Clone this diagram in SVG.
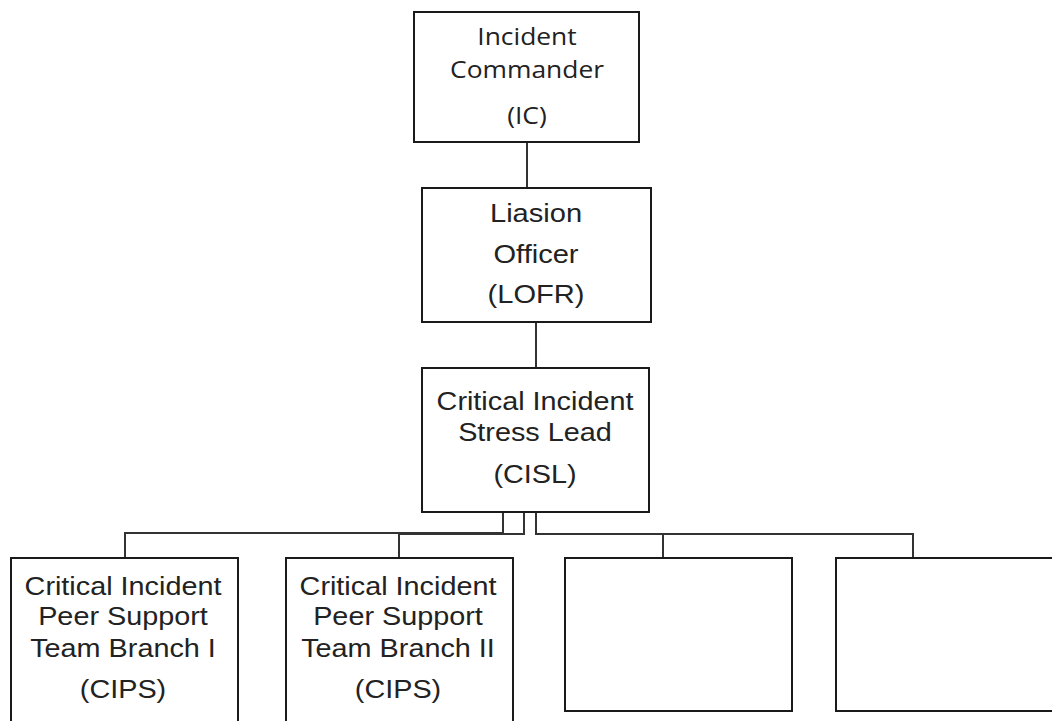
<svg xmlns="http://www.w3.org/2000/svg" width="1052" height="721" viewBox="0 0 1052 721">
<style>
.box{fill:#fff;stroke:#1a1a1a;stroke-width:2}
.con{fill:none;stroke:#333;stroke-width:2}
.t{font-family:"Liberation Sans",Arial,sans-serif;font-size:25.5px;fill:#222;text-anchor:middle}
.tc{font-family:"Open Sans","Noto Sans",sans-serif;font-size:24px;fill:#222;text-anchor:middle}
</style>
<rect width="1052" height="721" fill="#fff"/>
<g id="connectors">
<path class="con" d="M527 142 V188"/>
<path class="con" d="M536 322 V368"/>
<path class="con" d="M503 512 V533 H125 V558"/>
<path class="con" d="M524 512 V534 H399 V558"/>
<path class="con" d="M536 512 V534 H663 V558"/>
<path class="con" d="M663 534 H913 V558"/>
</g>
<g id="ic">
<rect class="box" x="414" y="12" width="225" height="130"/>
<g transform="translate(527,0) scale(1.1,1)">
<text class="tc" x="0" y="45">Incident</text>
<text class="tc" x="0" y="78">Commander</text>
<text class="tc" x="0" y="124">(IC)</text>
</g>
</g>
<g id="lofr">
<rect class="box" x="422" y="188" width="229" height="134"/>
<g transform="translate(536,0) scale(1.14,1)">
<text class="t" x="0" y="222">Liasion</text>
<text class="t" x="0" y="263">Officer</text>
<text class="t" x="0" y="303">(LOFR)</text>
</g>
</g>
<g id="cisl">
<rect class="box" x="422" y="368" width="227" height="144"/>
<g transform="translate(535,0) scale(1.13,1)">
<text class="t" x="0" y="410">Critical Incident</text>
<text class="t" x="0" y="441">Stress Lead</text>
<text class="t" x="0" y="483">(CISL)</text>
</g>
</g>
<g id="cips1">
<rect class="box" x="11" y="558" width="227" height="175"/>
<g transform="translate(123,0) scale(1.13,1)">
<text class="t" x="0" y="595">Critical Incident</text>
<text class="t" x="0" y="625">Peer Support</text>
<text class="t" x="0" y="657">Team Branch I</text>
<text class="t" x="0" y="698">(CIPS)</text>
</g>
</g>
<g id="cips2">
<rect class="box" x="286" y="558" width="227" height="175"/>
<g transform="translate(398,0) scale(1.13,1)">
<text class="t" x="0" y="595">Critical Incident</text>
<text class="t" x="0" y="625">Peer Support</text>
<text class="t" x="0" y="657">Team Branch II</text>
<text class="t" x="0" y="698">(CIPS)</text>
</g>
</g>
<g id="box3">
<rect class="box" x="565" y="558" width="227" height="153"/>
</g>
<g id="box4">
<rect class="box" x="836" y="558" width="230" height="153"/>
</g>
</svg>
